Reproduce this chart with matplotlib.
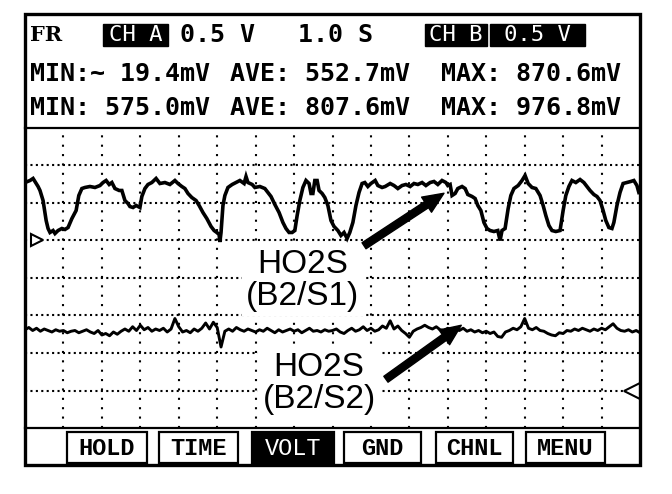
import numpy as np
import matplotlib.pyplot as plt
from matplotlib.patches import Rectangle

# channel A trace (HO2S B2/S1): time in s, signal in mV
time_a = [0.00, 0.13, 0.21, 0.29, 0.34, 0.39, 0.47, 0.55, 0.60, 0.65, 0.73, 0.78, 0.86, 0.96,
          1.04, 1.12, 1.22, 1.33, 1.40, 1.48, 1.56, 1.69, 1.82, 1.95, 2.03, 2.11, 2.19, 2.26,
          2.34, 2.45, 2.52, 2.60, 2.68, 2.73, 2.81, 2.89, 2.99, 3.04, 3.12, 3.20, 3.30, 3.41,
          3.51, 3.64, 3.77, 3.90, 3.98, 4.08, 4.16, 4.24, 4.34, 4.45, 4.53, 4.63, 4.73, 4.84,
          4.92, 4.99, 5.05, 5.07, 5.10, 5.15, 5.20, 5.28, 5.39, 5.49, 5.59, 5.70, 5.75, 5.80,
          5.91, 5.98, 6.11, 6.24, 6.32, 6.40, 6.50, 6.61, 6.71, 6.79, 6.87, 6.95, 7.02, 7.08,
          7.15, 7.23, 7.31, 7.39, 7.44, 7.49, 7.54, 7.60, 7.65, 7.73, 7.80, 7.88, 7.96, 8.04,
          8.14, 8.22, 8.30, 8.38, 8.45, 8.53, 8.61, 8.69, 8.77, 8.84, 8.92, 9.00, 9.11, 9.18,
          9.29, 9.37, 9.50, 9.60, 9.70, 9.81, 9.91, 10.02, 10.12, 10.22, 10.33, 10.43, 10.54,
          10.64, 10.74, 10.85, 10.95, 11.00, 11.06, 11.11, 11.19, 11.26, 11.37, 11.45, 11.52,
          11.63, 11.71, 11.78, 11.86, 11.94, 12.02, 12.10, 12.20, 12.30, 12.36, 12.41, 12.49,
          12.57, 12.64, 12.72, 12.83, 12.93, 13.01, 13.09, 13.19, 13.29, 13.40, 13.48, 13.55,
          13.63, 13.71, 13.81, 13.92, 14.00, 14.07, 14.15, 14.23, 14.33, 14.44, 14.54, 14.62,
          14.70, 14.80, 14.88, 14.96, 15.04, 15.11, 15.19, 15.27, 15.32, 15.40, 15.48, 15.56,
          15.66, 15.76, 15.84, 15.92, 15.97]
mv_a = [773, 800, 827, 760, 720, 667, 533, 267, 160, 107, 133, 93, 133, 160,
        147, 173, 293, 400, 600, 693, 707, 720, 707, 733, 773, 800, 747, 773,
        693, 667, 667, 533, 493, 453, 440, 467, 440, 587, 693, 747, 773, 827,
        760, 773, 747, 800, 760, 720, 693, 627, 573, 533, 467, 373, 293, 187,
        133, 107, 80, -20, 107, 467, 600, 707, 747, 773, 800, 760, 853, 773,
        747, 707, 720, 693, 640, 587, 480, 373, 240, 160, 107, 107, 133, 333,
        533, 707, 800, 760, 627, 627, 800, 800, 667, 627, 573, 467, 267, 187,
        133, 67, 107, 27, 107, 240, 467, 640, 760, 773, 720, 760, 800, 733,
        707, 720, 760, 733, 693, 733, 747, 720, 760, 747, 773, 733, 773,
        787, 747, 800, 773, 733, 747, 600, 627, 693, 720, 693, 613,
        587, 560, 467, 400, 240, 160, 133, 120, 133, 0, 133, 160,
        427, 600, 693, 733, 800, 867, 760, 707, 693, 600, 467, 333,
        200, 133, 120, 133, 400, 600, 720, 800, 773, 813, 773, 720,
        667, 613, 587, 533, 400, 267, 173, 160, 240, 467, 640, 760,
        773, 787, 800, 733, 640]

# channel B trace (HO2S B2/S2): one reading every 0.1 s, in mV
mv_b = [810, 840, 800, 830, 790, 820, 800, 780, 810, 790,
        800, 770, 790, 800, 770, 790, 810, 780, 760, 800,
        740, 760, 730, 780, 750, 790, 820, 790, 850, 800,
        870, 810, 840, 790, 820, 800, 830, 780, 820, 960,
        850, 780, 800, 770, 820, 790, 830, 900, 820, 910,
        840, 580, 790, 820, 790, 840, 810, 790, 820, 800,
        780, 810, 790, 830, 800, 770, 810, 780, 800, 820,
        790, 810, 770, 800, 830, 790, 800, 780, 810, 790,
        800, 820, 780, 760, 800, 830, 790, 810, 850, 800,
        830, 790, 810, 860, 830, 930, 820, 860, 800, 760,
        710, 790, 820, 840, 870, 840, 820, 850, 810, 800,
        830, 790, 820, 800, 830, 790, 810, 780, 800, 770,
        790, 760, 780, 720, 710, 780, 800, 830, 810, 850,
        960, 830, 810, 840, 800, 790, 760, 740, 730, 770,
        760, 800, 790, 820, 800, 830, 810, 790, 820, 800,
        830, 810, 850, 890, 830, 800, 790, 810, 780, 800,
        770]
time_b = np.arange(len(mv_b)) * 0.1

header_a = ["MIN:~ 19.4mV", "AVE: 552.7mV", "MAX: 870.6mV"]
header_b = ["MIN: 575.0mV", "AVE: 807.6mV", "MAX: 976.8mV"]
buttons = ["HOLD", "TIME", "VOLT", "GND", "CHNL", "MENU"]

W, H = 672, 494
fig = plt.figure(figsize=(W / 100, H / 100), dpi=100)

# scope screen: 16 x 8 divisions, 1.0 s/div, 0.5 V/div
ax = fig.add_axes([25 / W, 66 / H, 615 / W, 300 / H])
ax.set_xlim(0, 16)
ax.set_ylim(-2.5, 1.5)
axb = ax.twinx()
axb.set_ylim(-0.5, 3.5)
for a in (ax, axb):
    a.set_xticks([])
    a.set_yticks([])
    for s in a.spines.values():
        s.set_visible(False)

for t in np.arange(1, 16):
    ax.axvline(t, color='black', lw=1.5, ls=(0, (1.0, 3.5)), zorder=1)
for v in np.arange(-2.0, 1.5, 0.5):
    ax.axhline(v, color='black', lw=1.5, ls=(0, (1.0, 1.6)), zorder=1)

ax.plot(time_a, np.array(mv_a) / 1000, color='black', lw=2.6, zorder=5,
        solid_joinstyle='miter')
axb.plot(time_b, np.array(mv_b) / 1000, color='black', lw=2.1, zorder=5)

# ground markers
ax.plot([0.3], [0.0], marker='>', ms=9, mfc='white', mec='black', mew=1.5, zorder=6)
axb.plot([15.8], [0.0], marker='<', ms=11, mfc='white', mec='black', mew=1.5, zorder=6)

lbl = dict(ha='center', va='center', fontsize=24, family='Liberation Sans',
           linespacing=1.05, zorder=3,
           bbox=dict(facecolor='white', edgecolor='none', pad=3))
ax.text(7.23, -0.53, "HO2S\n(B2/S1)", **lbl)
axb.text(7.65, 0.09, "HO2S\n(B2/S2)", **lbl)

arrow = dict(arrowstyle='simple,head_length=0.75,head_width=0.65,tail_width=0.26',
             fc='black', ec='black', mutation_scale=20, shrinkA=0, shrinkB=0)
ax.annotate('', xy=(10.9, 0.63), xytext=(8.82, -0.07), arrowprops=arrow, zorder=6)
axb.annotate('', xy=(11.35, 0.87), xytext=(9.39, 0.15), arrowprops=arrow, zorder=6)

# frame, header and button bar in pixel coordinates
fr = fig.add_axes([0, 0, 1, 1], facecolor='none')
fr.set_xlim(0, W)
fr.set_ylim(H, 0)
fr.axis('off')
fr.add_patch(Rectangle((25, 14), 615, 451, fill=False, ec='black', lw=2.4))
fr.plot([25, 640], [128, 128], color='black', lw=1.6)
fr.plot([25, 640], [428, 428], color='black', lw=1.6)

mono = dict(family='DejaVu Sans Mono', fontsize=18, va='center', ha='left')
fr.text(30, 35, "FR", fontweight='bold', family='DejaVu Serif', fontsize=15,
        va='center', ha='left')
for x0, x1, s in [(103, 168, "CH A"), (425, 487, "CH B"), (490, 585, "0.5 V")]:
    fr.add_patch(Rectangle((x0, 24), x1 - x0, 22, color='black'))
    fr.text((x0 + x1) / 2, 35, s, color='white', family='DejaVu Sans Mono',
            fontsize=16, ha='center', va='center')
fr.text(180, 35, "0.5 V", fontweight='bold', **mono)
fr.text(298, 35, "1.0 S", fontweight='bold', **mono)

for x, s in zip([30, 230, 441], header_a):
    fr.text(x, 74, s, fontweight='bold', **mono)
for x, s in zip([30, 230, 441], header_b):
    fr.text(x, 108, s, fontweight='bold', **mono)

btn_x = [(67, 147), (159, 238), (252, 334), (344, 421), (436, 513), (526, 605)]
for (x0, x1), s in zip(btn_x, buttons):
    inv = s == "VOLT"
    fr.add_patch(Rectangle((x0, 432), x1 - x0, 31, fc='black' if inv else 'white',
                           ec='black', lw=1.6))
    fr.text((x0 + x1) / 2, 448, s, color='white' if inv else 'black',
            family='Liberation Mono', fontweight='normal' if inv else 'bold',
            fontsize=17, ha='center', va='center')

fig.savefig('out.png', dpi=100, facecolor='white')
